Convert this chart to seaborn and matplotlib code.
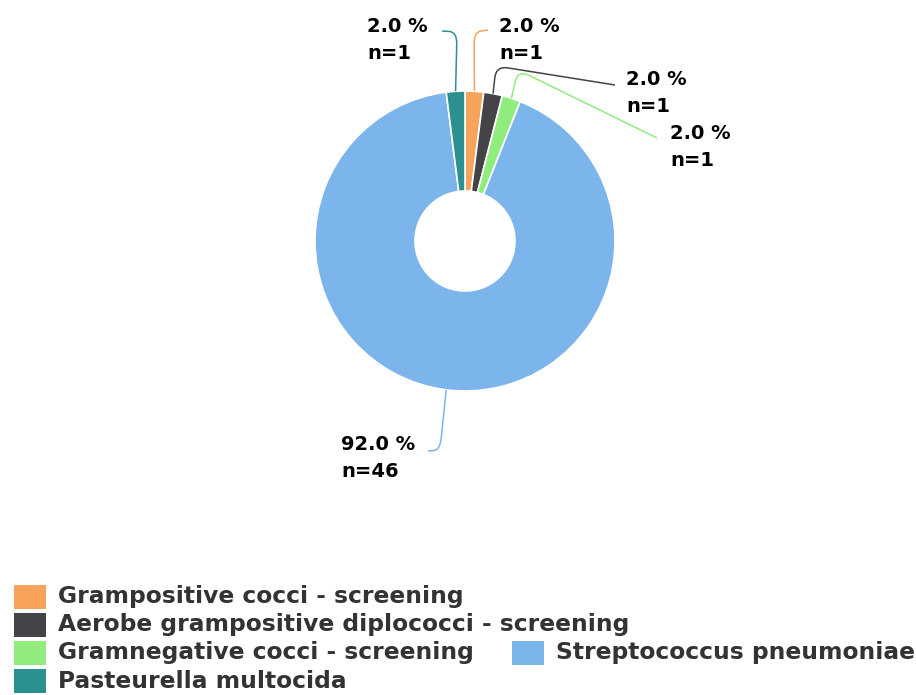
import seaborn as sns
from matplotlib import pyplot as plt
from matplotlib.patches import Rectangle, PathPatch
from matplotlib.path import Path
import numpy as np

# data
categories = [
    "Grampositive cocci - screening",
    "Aerobe grampositive diplococci - screening",
    "Gramnegative cocci - screening",
    "Streptococcus pneumoniae",
    "Pasteurella multocida",
]
counts = [1, 1, 1, 46, 1]
colors = ["#f7a35c", "#434348", "#90ed7d", "#7cb5ec", "#2b908f"]

# layout (pixels, y downwards)
W, H = 916, 695
CX, CY = 465, 241
R_OUT, R_IN = 150, 50
LABEL_SIZE = 14
LEGEND_SIZE = 16.8

# label text anchor (left x, middle y), connector corner and end
label_pos = [(499, 40), (626, 93), (670, 147), (341, 458), (367, 40)]
conn_corner = [(474, 32), (496, 66), (518, 70), (440, 450), (457, 32)]
conn_end = [(488, 30), (615, 85), (657, 138), (428, 451), (442, 31)]

# legend slots: (square left x, row centre y)
legend_pos = [(14, 597), (14, 625), (14, 653), (512, 653), (14, 681)]

sns.set_theme(style="white")
plt.rcParams["font.family"] = ["DejaVu Sans"]

fig = plt.figure(figsize=(W / 100, H / 100), dpi=100)
ax = fig.add_axes([0, 0, 1, 1])

wedges, _ = ax.pie(
    counts,
    colors=colors,
    startangle=-90,
    counterclock=True,
    radius=R_OUT,
    center=(CX, CY),
    wedgeprops=dict(width=R_OUT - R_IN, edgecolor="white", linewidth=1.2),
)
ax.set_xlim(0, W)
ax.set_ylim(H, 0)
ax.set_aspect("equal")
ax.axis("off")


def rounded_path(a, b, c, r=12):
    a, b, c = np.array(a, float), np.array(b, float), np.array(c, float)
    ab = b - a
    bc = c - b
    p1 = b - ab / np.linalg.norm(ab) * min(r, np.linalg.norm(ab) / 2)
    p2 = b + bc / np.linalg.norm(bc) * min(r, np.linalg.norm(bc) / 2)
    verts = [a, p1, b, p2, c]
    codes = [Path.MOVETO, Path.LINETO, Path.CURVE3, Path.CURVE3, Path.LINETO]
    return Path(verts, codes)


total = sum(counts)
for i, w in enumerate(wedges):
    theta = np.deg2rad((w.theta1 + w.theta2) / 2)
    edge = (CX + R_OUT * np.cos(theta), CY + R_OUT * np.sin(theta))
    path = rounded_path(edge, conn_corner[i], conn_end[i])
    ax.add_patch(PathPatch(path, fill=False, edgecolor=colors[i], linewidth=1.1))
    pct = counts[i] / total * 100
    ax.text(
        label_pos[i][0],
        label_pos[i][1],
        f"{pct:.1f} %\nn={counts[i]}",
        ha="left",
        va="center",
        fontsize=LABEL_SIZE,
        fontweight="bold",
        color="black",
        linespacing=1.5,
    )

# legend
for i, name in enumerate(categories):
    x, y = legend_pos[i]
    ax.add_patch(Rectangle((x, y - 12), 32, 24, facecolor=colors[i], edgecolor="none"))
    ax.text(
        x + 44,
        y,
        name,
        ha="left",
        va="center",
        fontsize=LEGEND_SIZE,
        fontweight="bold",
        color="#333333",
    )

plt.savefig("out.png", dpi=100)
plt.close("all")
